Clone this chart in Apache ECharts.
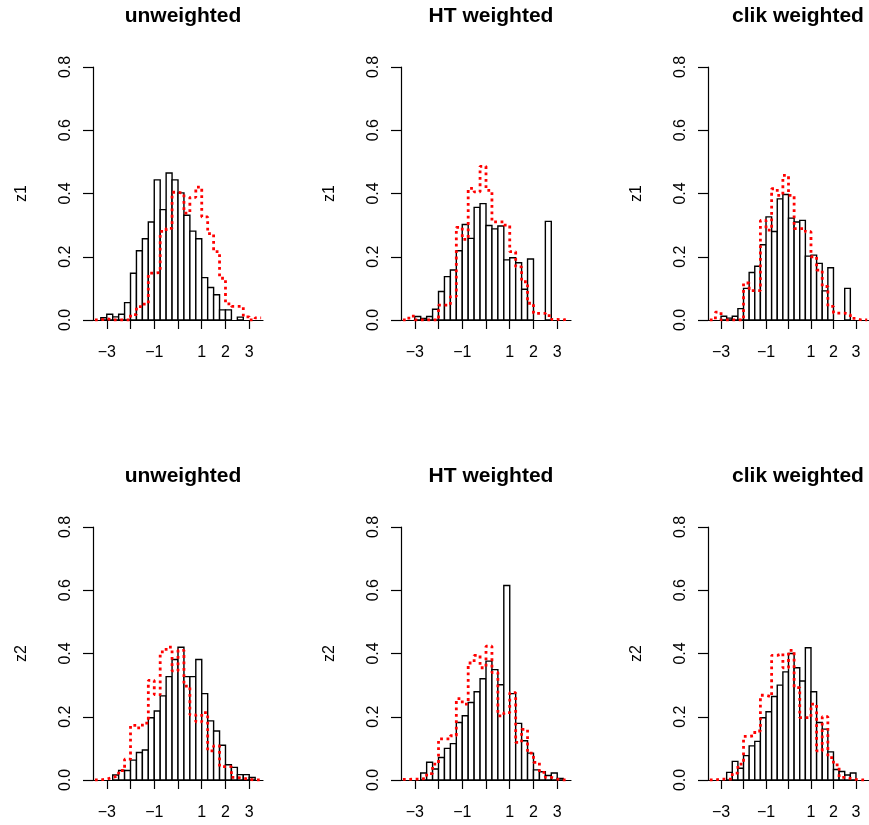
<!DOCTYPE html>
<html>
<head>
<meta charset="utf-8">
<title>weighted histograms</title>
<script src="https://cdn.jsdelivr.net/npm/echarts@6/dist/echarts.min.js"></script>
<style>
  html, body { margin: 0; padding: 0; background: #fff; }
  #main { width: 869px; height: 825px; }
</style>
</head>
<body>
<div id="main"></div>
<script>
// bin edges (width 0.25) shared by all six panels
var breaks = [-3.5, -3.25, -3, -2.75, -2.5, -2.25, -2, -1.75, -1.5, -1.25, -1, -0.75, -0.5, -0.25,
              0, 0.25, 0.5, 0.75, 1, 1.25, 1.5, 1.75, 2, 2.25, 2.5, 2.75, 3, 3.25, 3.5];

var panelTitles = ['unweighted', 'HT weighted', 'clik weighted'];
var rowNames = ['z1', 'z2'];
var xTickValues = [-3, -2, -1, 0, 1, 2, 3];
var xLabelValues = [-3, -1, 1, 2, 3];

// bar heights (density), one value per bin
var z1Unweighted = [0, 0.007, 0.018, 0.010, 0.018, 0.055, 0.148, 0.219, 0.257, 0.310, 0.443, 0.349, 0.465, 0.443,
                    0.402, 0.331, 0.281, 0.257, 0.134, 0.103, 0.080, 0.032, 0.032, 0, 0.009, 0, 0, 0];
var z1HT = [0, 0, 0.011, 0.005, 0.011, 0.034, 0.090, 0.137, 0.158, 0.219, 0.302, 0.258, 0.356, 0.368,
            0.299, 0.288, 0.297, 0.190, 0.197, 0.181, 0.097, 0.193, 0, 0, 0.312, 0, 0, 0];
var z1Clik = [0, 0, 0.012, 0.006, 0.012, 0.036, 0.100, 0.150, 0.170, 0.238, 0.326, 0.280, 0.383, 0.397,
              0.322, 0.310, 0.315, 0.202, 0.205, 0.179, 0.092, 0.165, 0, 0, 0.100, 0, 0, 0];
var z2Unweighted = [0, 0, 0, 0.016, 0.030, 0.030, 0.063, 0.087, 0.095, 0.197, 0.218, 0.266, 0.327, 0.381,
                    0.420, 0.327, 0.327, 0.381, 0.273, 0.187, 0.155, 0.110, 0.048, 0.040, 0.017, 0.017, 0.008, 0];
var z2HT = [0, 0, 0, 0.022, 0.056, 0.035, 0.071, 0.100, 0.115, 0.182, 0.203, 0.245, 0.279, 0.320,
            0.376, 0.349, 0.301, 0.615, 0.273, 0.179, 0.124, 0.085, 0.032, 0.026, 0.014, 0.022, 0.005, 0];
var z2Clik = [0, 0, 0, 0.024, 0.059, 0.037, 0.077, 0.108, 0.122, 0.197, 0.216, 0.264, 0.300, 0.342,
              0.400, 0.355, 0.313, 0.418, 0.279, 0.182, 0.161, 0.089, 0.033, 0.027, 0.016, 0.022, 0, 0];

// red dotted step lines (population density), one value per bin
var z1UnweightedPop = [0, 0.004, 0, 0, 0, 0, 0.017, 0.042, 0.050, 0.148, 0.150, 0.280, 0.290, 0.404,
                       0.400, 0.338, 0.388, 0.420, 0.326, 0.273, 0.216, 0.132, 0.051, 0.043, 0.043, 0.010, 0, 0.007];
var z1HTPop = [0, 0.012, 0, 0, 0, 0, 0.047, 0.047, 0.074, 0.293, 0.255, 0.416, 0.405, 0.486,
               0.410, 0.310, 0.310, 0.300, 0.216, 0.168, 0.121, 0.053, 0.021, 0.021, 0.014, 0.002, 0, 0.005];
var z1ClikPop = [0, 0.025, 0, 0, 0, 0, 0.117, 0.093, 0.093, 0.315, 0.284, 0.415, 0.394, 0.457,
                 0.394, 0.289, 0.289, 0.279, 0.200, 0.158, 0.106, 0.043, 0.022, 0.022, 0.017, 0.005, 0, 0];
var z2UnweightedPop = [0, 0.003, 0.008, 0.013, 0.030, 0.066, 0.173, 0.165, 0.180, 0.315, 0.270, 0.405, 0.420, 0.345,
                       0.410, 0.297, 0.206, 0.184, 0.213, 0.092, 0.108, 0.042, 0.042, 0.008, 0.006, 0.002, 0, 0];
var z2HTPop = [0.002, 0.003, 0.003, 0.005, 0.020, 0.050, 0.130, 0.130, 0.140, 0.257, 0.240, 0.370, 0.394, 0.355,
               0.423, 0.340, 0.203, 0.213, 0.276, 0.119, 0.160, 0.085, 0.056, 0.024, 0.008, 0.003, 0, 0];
var z2ClikPop = [0, 0.003, 0.003, 0.003, 0.022, 0.050, 0.138, 0.140, 0.155, 0.268, 0.263, 0.394, 0.400, 0.355,
                 0.410, 0.292, 0.197, 0.197, 0.240, 0.092, 0.200, 0.071, 0.048, 0.008, 0.005, 0.002, 0, 0];

var barSets = [z1Unweighted, z1HT, z1Clik, z2Unweighted, z2HT, z2Clik];
var popSets = [z1UnweightedPop, z1HTPop, z1ClikPop, z2UnweightedPop, z2HTPop, z2ClikPop];

(function () {
    var font = '"Liberation Sans", Arial, Helvetica, sans-serif';
    var gridLefts = [93, 401, 708];
    var gridTops = [67, 527];
    var gridW = 170, gridH = 253;

    function minus(v) {
        return String(v).replace('-', '\u2212');
    }

    var titles = [], grids = [], xAxes = [], yAxes = [], series = [];

    for (var p = 0; p < 6; p++) {
        var row = Math.floor(p / 3), col = p % 3;
        var gx = gridLefts[col], gy = gridTops[row];

        titles.push({
            text: panelTitles[col],
            left: gx + gridW / 2,
            top: gy - 66,
            textAlign: 'center',
            textStyle: { fontFamily: font, fontSize: 21, fontWeight: 'bold', color: '#000' }
        });
        grids.push({ left: gx, top: gy, width: gridW, height: gridH });

        xAxes.push({
            type: 'value', gridIndex: p, min: -3.58, max: 3.58,
            axisLine: { onZero: false, lineStyle: { color: '#000', width: 1.2 } },
            axisTick: { customValues: xTickValues, length: 9, lineStyle: { color: '#000', width: 1.2 } },
            axisLabel: {
                customValues: xLabelValues, margin: 25, color: '#000',
                fontFamily: font, fontSize: 16, formatter: minus
            },
            splitLine: { show: false }
        });
        yAxes.push({
            type: 'value', gridIndex: p, min: 0, max: 0.8, interval: 0.2,
            name: rowNames[row], nameLocation: 'middle', nameRotate: 90, nameGap: 63,
            nameTextStyle: { fontFamily: font, fontSize: 16, color: '#000' },
            axisLine: { onZero: false, lineStyle: { color: '#000', width: 1.2 } },
            axisTick: { length: 10, lineStyle: { color: '#000', width: 1.2 } },
            axisLabel: {
                rotate: 90, margin: 19, color: '#000', fontFamily: font, fontSize: 16,
                formatter: function (v) { return v.toFixed(1); }
            },
            splitLine: { show: false }
        });

        var bars = [];
        var steps = [];
        for (var i = 0; i < breaks.length - 1; i++) {
            bars.push([breaks[i], breaks[i + 1], barSets[p][i]]);
            steps.push([breaks[i], popSets[p][i]]);
        }
        steps.push([breaks[breaks.length - 1], popSets[p][breaks.length - 2]]);

        series.push({
            type: 'custom', xAxisIndex: p, yAxisIndex: p, z: 2,
            encode: { x: [0, 1], y: 2 },
            data: bars,
            renderItem: function (params, api) {
                var h = api.value(2);
                if (!(h > 0)) return;
                var a = api.coord([api.value(0), h]);
                var b = api.coord([api.value(1), 0]);
                return {
                    type: 'rect',
                    shape: { x: a[0], y: a[1], width: b[0] - a[0], height: b[1] - a[1] },
                    style: { fill: '#fff', stroke: '#000', lineWidth: 1.4 }
                };
            }
        });
        series.push({
            type: 'line', xAxisIndex: p, yAxisIndex: p, z: 3,
            step: 'end', showSymbol: false, silent: true,
            data: steps,
            lineStyle: { color: '#ff0000', width: 2.8, type: [2.8, 3.6] }
        });
    }

    var chart = echarts.init(document.getElementById('main'), null, { renderer: 'canvas' });
    chart.setOption({
        animation: false,
        backgroundColor: '#fff',
        title: titles,
        grid: grids,
        xAxis: xAxes,
        yAxis: yAxes,
        series: series
    });
})();
</script>
</body>
</html>
